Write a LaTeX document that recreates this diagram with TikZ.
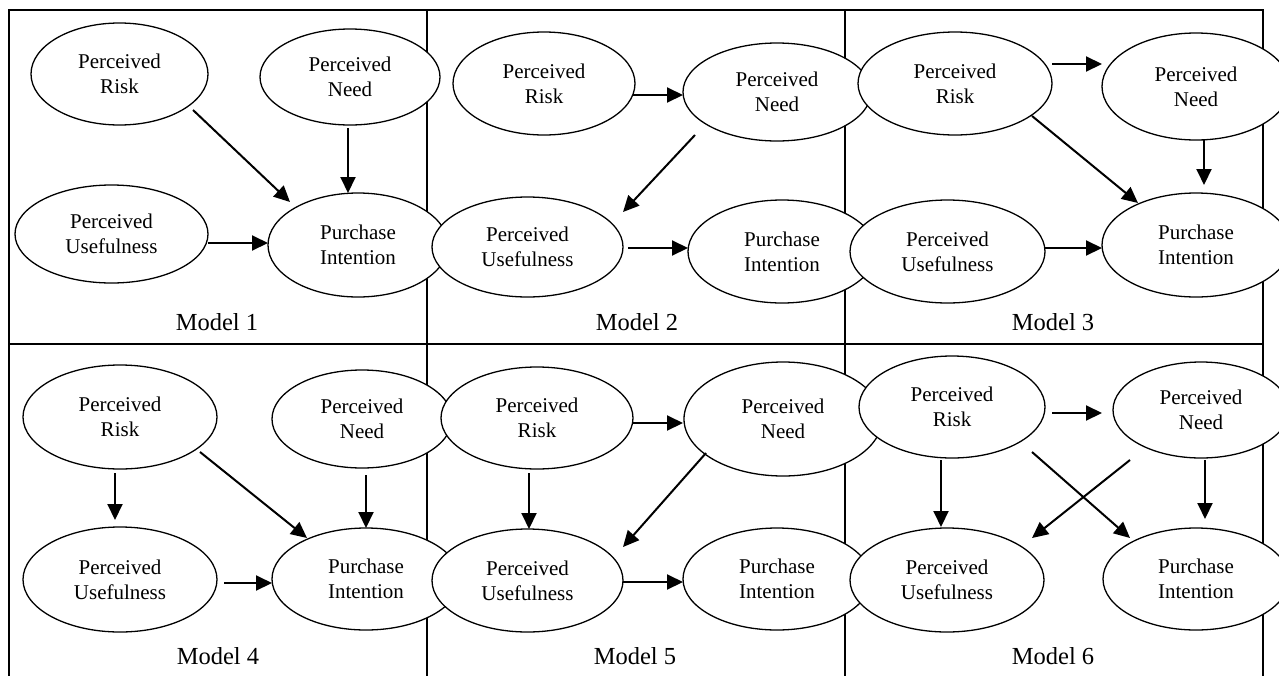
\documentclass[tikz,border=0pt]{standalone}
\usepackage{fontspec}
\setmainfont{Liberation Serif}
\usetikzlibrary{shapes.geometric,arrows.meta,calc}
\begin{document}
\begin{tikzpicture}[x=1pt,y=-1pt,
  ell/.style={ellipse,draw,line width=1.3pt,fill=white,inner sep=0pt,outer sep=0pt,align=center,font=\fontsize{21}{25}\selectfont},
  arr/.style={line width=2pt,-{Triangle[length=16pt,width=15pt]}},
  gridline/.style={line width=2pt},
  lbl/.style={font=\fontsize{24.5}{29}\selectfont,inner sep=0pt}]
\useasboundingbox (0,0) rectangle (1279,675);
% grid
\draw[gridline] (9,680) -- (9,10) -- (1263,10) -- (1263,680);
\draw[gridline] (427,10) -- (427,680);
\draw[gridline] (845,10) -- (845,680);
\draw[gridline] (9,344) -- (1263,344);
% Model 1
\node[ell,minimum width=177pt,minimum height=102pt] (R1) at (119.5,74) {Perceived\\Risk};
\node[ell,minimum width=180pt,minimum height=96pt] (N1) at (350,77) {Perceived\\Need};
\node[ell,minimum width=193pt,minimum height=98pt] (U1) at (111.5,234) {Perceived\\Usefulness};
\node[ell,minimum width=180pt,minimum height=104pt] (P1) at (358,245) {Purchase\\Intention};
% Model 2
\node[ell,minimum width=182pt,minimum height=103pt] (R2) at (544,83.5) {Perceived\\Risk};
\node[ell,minimum width=188pt,minimum height=98pt] (N2) at (777,92) {Perceived\\Need};
\node[ell,minimum width=191pt,minimum height=100pt] (U2) at (527.5,247) {Perceived\\Usefulness};
\node[ell,minimum width=188pt,minimum height=103pt] (P2) at (782,251.5) {Purchase\\Intention};
% Model 3
\node[ell,minimum width=194pt,minimum height=103pt] (R3) at (955,83.5) {Perceived\\Risk};
\node[ell,minimum width=188pt,minimum height=107pt] (N3) at (1196,86.5) {Perceived\\Need};
\node[ell,minimum width=195pt,minimum height=103pt] (U3) at (947.5,251.5) {Perceived\\Usefulness};
\node[ell,minimum width=188pt,minimum height=104pt] (P3) at (1196,245) {Purchase\\Intention};
% Model 4
\node[ell,minimum width=194pt,minimum height=104pt] (R4) at (120,417) {Perceived\\Risk};
\node[ell,minimum width=180pt,minimum height=98pt] (N4) at (362,419) {Perceived\\Need};
\node[ell,minimum width=194pt,minimum height=105pt] (U4) at (120,579.5) {Perceived\\Usefulness};
\node[ell,minimum width=188pt,minimum height=102pt] (P4) at (366,579) {Purchase\\Intention};
% Model 5
\node[ell,minimum width=192pt,minimum height=102pt] (R5) at (537,418) {Perceived\\Risk};
\node[ell,minimum width=198pt,minimum height=114pt] (N5) at (783,419) {Perceived\\Need};
\node[ell,minimum width=191pt,minimum height=103pt] (U5) at (527.5,580.5) {Perceived\\Usefulness};
\node[ell,minimum width=188pt,minimum height=102pt] (P5) at (777,579) {Purchase\\Intention};
% Model 6
\node[ell,minimum width=186pt,minimum height=102pt] (R6) at (952,407) {Perceived\\Risk};
\node[ell,minimum width=176pt,minimum height=96pt] (N6) at (1201,410) {Perceived\\Need};
\node[ell,minimum width=194pt,minimum height=104pt] (U6) at (947,580) {Perceived\\Usefulness};
\node[ell,minimum width=186pt,minimum height=102pt] (P6) at (1196,579) {Purchase\\Intention};
% arrows Model 1
\draw[arr] ($(R1)+(73.5,36)$) -- ($(P1)+(-68,-43)$);
\draw[arr] ($(N1)+(-2,51)$) -- ($(P1)+(-10,-52)$);
\draw[arr] ($(U1)+(96.5,9)$) -- ($(P1)+(-90,-2)$);
% arrows Model 2
\draw[arr] ($(R2)+(89,11.5)$) -- ($(N2)+(-94,3)$);
\draw[arr] ($(N2)+(-82,43)$) -- ($(U2)+(95.5,-35)$);
\draw[arr] ($(U2)+(100.5,1)$) -- ($(P2)+(-94,-3.5)$);
% arrows Model 3
\draw[arr] ($(R3)+(97,-19.5)$) -- ($(N3)+(-94,-22.5)$);
\draw[arr] ($(R3)+(77,32.5)$) -- ($(P3)+(-58,-42)$);
\draw[arr] ($(N3)+(8,53.5)$) -- ($(P3)+(8,-60)$);
\draw[arr] ($(U3)+(96.5,-3.5)$) -- ($(P3)+(-94,3)$);
% arrows Model 4
\draw[arr] ($(R4)+(-5,56)$) -- ($(U4)+(-5,-59.5)$);
\draw[arr] ($(R4)+(80,35)$) -- ($(P4)+(-59,-41)$);
\draw[arr] ($(N4)+(4,56)$) -- ($(P4)+(0,-51)$);
\draw[arr] ($(U4)+(104,3.5)$) -- ($(P4)+(-94,4)$);
% arrows Model 5
\draw[arr] ($(R5)+(96,5)$) -- ($(N5)+(-100,4)$);
\draw[arr] ($(R5)+(-8,55)$) -- ($(U5)+(1.5,-51.5)$);
\draw[arr] ($(N5)+(-77,34)$) -- ($(U5)+(95.5,-33.5)$);
\draw[arr] ($(U5)+(95.5,1.5)$) -- ($(P5)+(-94,3)$);
% arrows Model 6
\draw[arr] ($(R6)+(100,6)$) -- ($(N6)+(-99,3)$);
\draw[arr] ($(R6)+(-11,53)$) -- ($(U6)+(-6,-53)$);
\draw[arr] ($(R6)+(80,45)$) -- ($(P6)+(-66,-41)$);
\draw[arr] ($(N6)+(-71,50)$) -- ($(U6)+(85,-42)$);
\draw[arr] ($(N6)+(4,50)$) -- ($(P6)+(9,-60)$);
% labels
\node[lbl] (L1) at (217,322) {Model 1};
\node[lbl] (L2) at (637,322) {Model 2};
\node[lbl] (L3) at (1053,322) {Model 3};
\node[lbl] (L4) at (218,656) {Model 4};
\node[lbl] (L5) at (635,656) {Model 5};
\node[lbl] (L6) at (1053,656) {Model 6};
\end{tikzpicture}
\end{document}
